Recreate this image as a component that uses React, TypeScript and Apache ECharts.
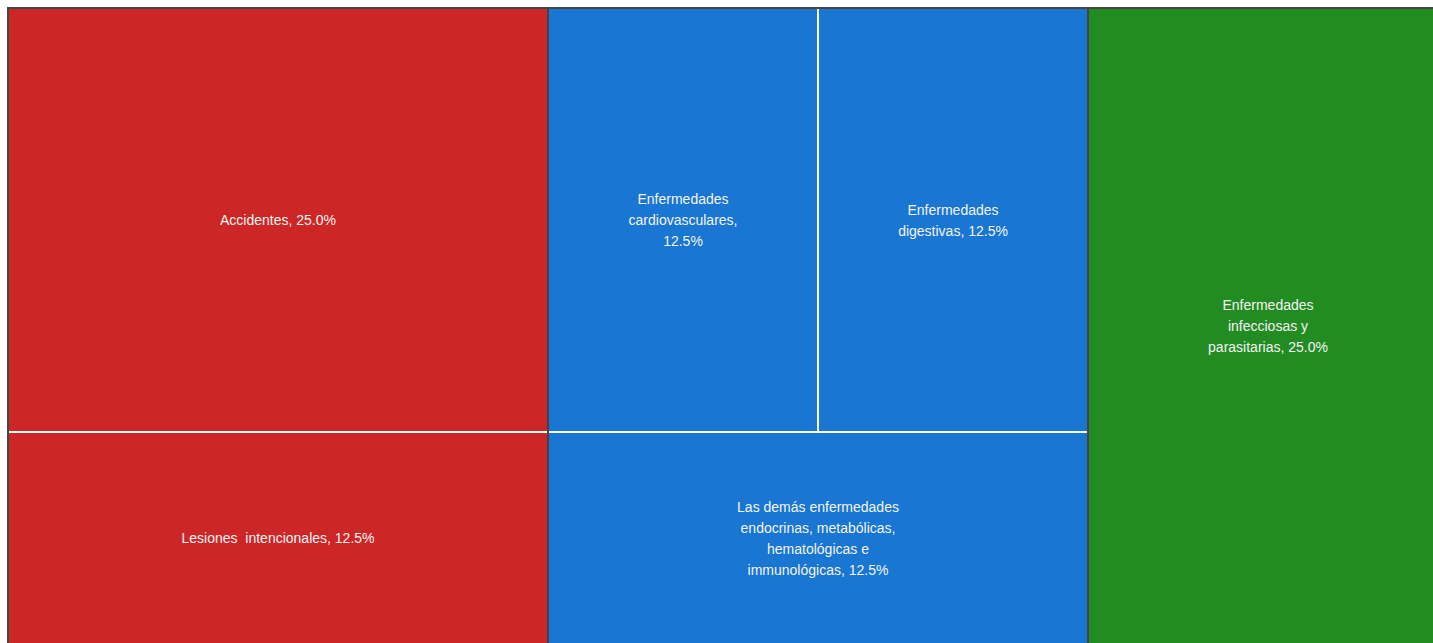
import React, { useEffect, useRef } from "react";
import * as echarts from "echarts";

const groupNames = ["Lesiones", "Enfermedades no transmisibles", "Enfermedades transmisibles"];
const groupColors = ["#CD2626", "#1976D2", "#228B22"];

const redLabels = ["Accidentes", "Lesiones  intencionales"];
const redValues = [25, 12.5];

const blueLabels = [
  "Enfermedades\ncardiovasculares,\n",
  "Enfermedades\ndigestivas, ",
  "Las demás enfermedades\nendocrinas, metabólicas,\nhematológicas e\nimmunológicas, ",
];
const blueValues = [12.5, 12.5, 12.5];

const greenLabel = "Enfermedades\ninfecciosas y\nparasitarias, ";
const greenValue = 25;

const total = [...redValues, ...blueValues, greenValue].reduce((a, b) => a + b, 0);

function pct(v: number) {
  return ((v / total) * 100).toFixed(1) + "%";
}

function leaf(label: string, value: number, color: string, sep: string) {
  return {
    name: label.replace(/\n/g, " ").trim(),
    value,
    labelText: label + sep + pct(value),
    itemStyle: { color },
  };
}

export default function App() {
  const ref = useRef<HTMLDivElement>(null);
  useEffect(() => {
    if (!ref.current) return;
    const chart = echarts.init(ref.current, undefined, { renderer: "svg" });
    const data = [
      {
        name: groupNames[0],
        value: redValues.reduce((a, b) => a + b, 0),
        itemStyle: { color: groupColors[0] },
        children: redLabels.map((l, i) => leaf(l, redValues[i], groupColors[0], ", ")),
      },
      {
        name: groupNames[1],
        value: blueValues.reduce((a, b) => a + b, 0),
        itemStyle: { color: groupColors[1] },
        children: blueLabels.map((l, i) => leaf(l, blueValues[i], groupColors[1], "")),
      },
      {
        name: groupNames[2],
        value: greenValue,
        itemStyle: { color: groupColors[2] },
        children: [leaf(greenLabel, greenValue, groupColors[2], "")],
      },
    ];
    chart.setOption({
      animation: false,
      series: [
        {
          type: "treemap",
          left: 7,
          top: 7,
          width: 1442,
          height: 638,
          roam: false,
          nodeClick: false,
          sort: false,
          breadcrumb: { show: false },
          label: {
            show: true,
            position: "inside",
            align: "center",
            verticalAlign: "middle",
            color: "#f4f4f4",
            fontSize: 14,
            lineHeight: 21,
            fontFamily: "Liberation Sans, Arial, Helvetica, sans-serif",
            formatter: (p: any) => p.data.labelText,
          },
          upperLabel: { show: false },
          levels: [
            {
              itemStyle: { borderColor: "#444444", borderWidth: 2, gapWidth: 2 },
            },
            {
              itemStyle: { borderColor: "#ffffff", borderWidth: 0, gapWidth: 2 },
            },
            {
              itemStyle: { borderWidth: 0, gapWidth: 0 },
            },
          ],
          data,
        },
      ],
    });
    return () => chart.dispose();
  }, []);
  return (
    <div
      ref={ref}
      style={{
        position: "fixed",
        left: 0,
        top: 0,
        width: 1433,
        height: 643,
        overflow: "hidden",
        background: "#ffffff",
      }}
    />
  );
}
